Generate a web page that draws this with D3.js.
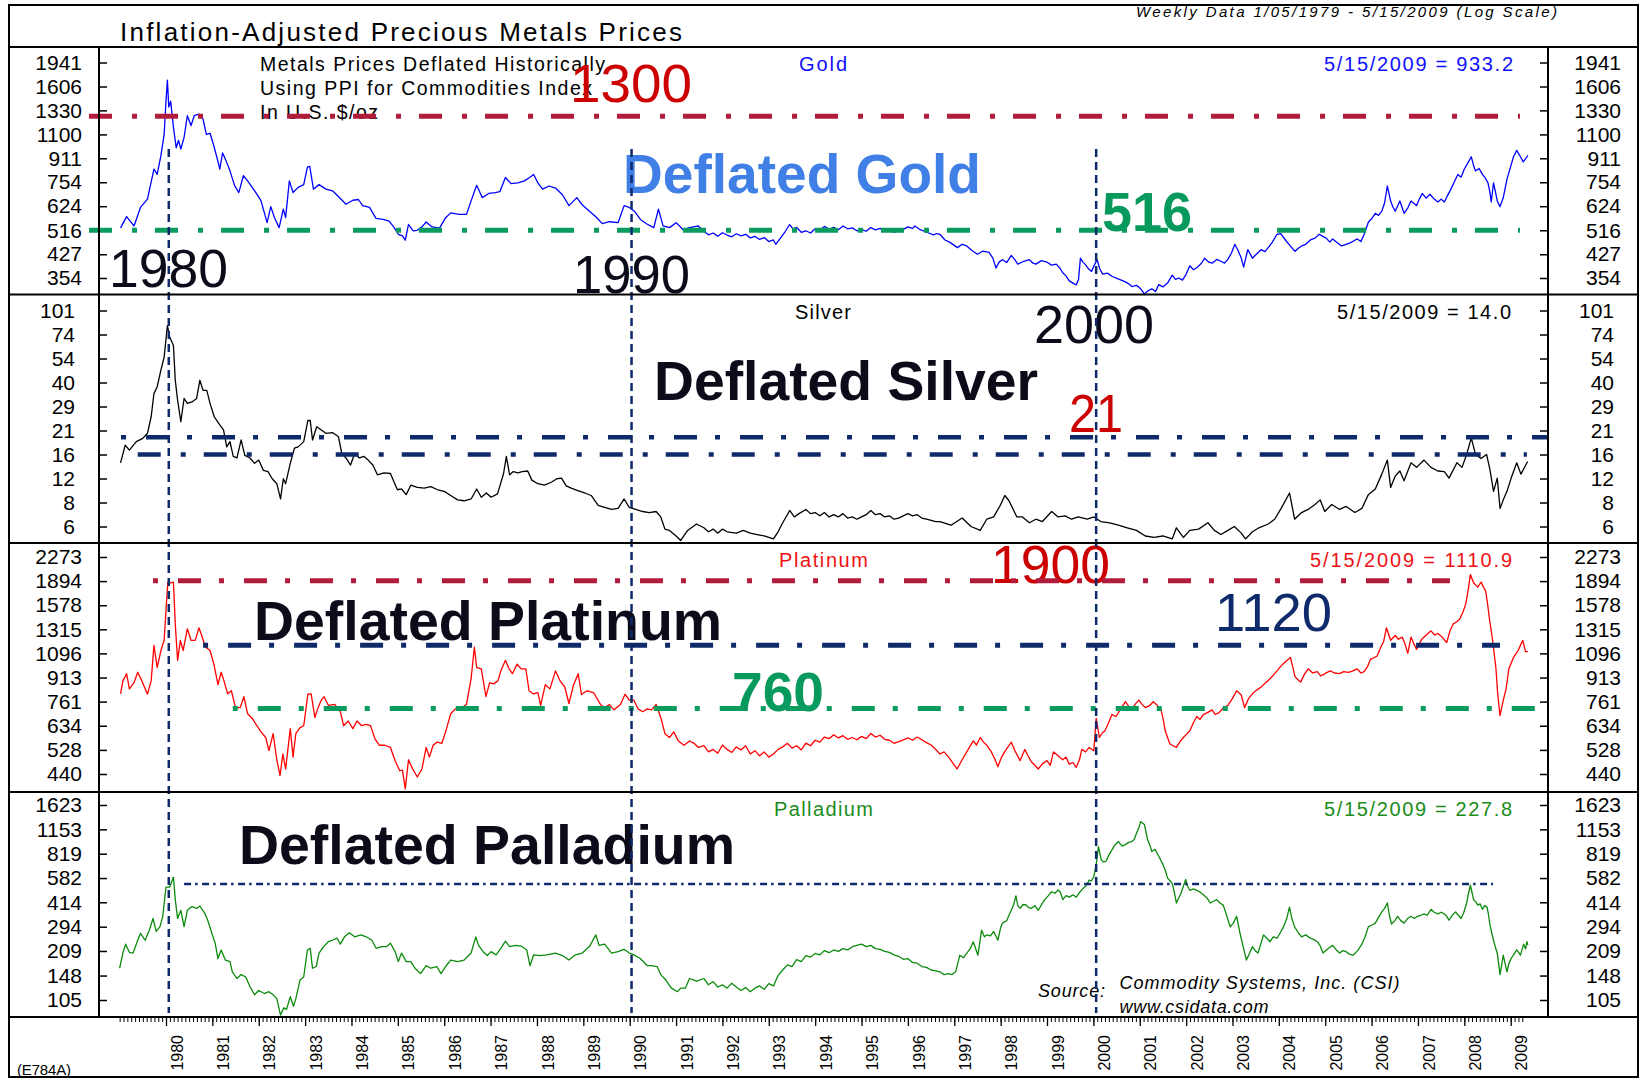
<!DOCTYPE html>
<html>
<head>
<meta charset="utf-8">
<script src="https://cdn.jsdelivr.net/npm/d3@7"></script>
<style>
body { margin: 0; background: #fff; }
svg text { font-family: "Liberation Sans", Arial, sans-serif; }
</style>
</head>
<body>
<svg id="chart" width="1640" height="1079"></svg>
<script>
// tick values / labels of the four log axes
const goldTicks = [354, 427, 516, 624, 754, 911, 1100, 1330, 1606, 1941]
const silverTicks = [6, 8.21, 11.24, 15.38, 21.05, 28.81, 39.43, 53.97, 73.86, 101.1]
const silverTickLabels = ['6', '8', '12', '16', '21', '29', '40', '54', '74', '101']
const platTicks = [440, 528, 634, 761, 913, 1096, 1315, 1578, 1894, 2273]
const pallTicks = [105, 148, 209, 294, 414, 582, 819, 1153, 1623]
const yearLabels = [1980, 1981, 1982, 1983, 1984, 1985, 1986, 1987, 1988, 1989, 1990, 1991, 1992, 1993, 1994,
    1995, 1996, 1997, 1998, 1999, 2000, 2001, 2002, 2003, 2004, 2005, 2006, 2007, 2008, 2009]

// reference levels drawn as dash-dot lines
const goldLevels = [1270, 516]
const silverLevels = [19.3, 15.4]
const platLevels = [1900, 1165, 722]
const pallLevels = [535]
const markerYears = [1980.06, 1990.04, 2000.06]

// deflated prices, [decimal year, $/oz]
const goldData = [[1979.02,526],[1979.15,575],[1979.31,534],[1979.45,618],[1979.6,660],[1979.74,837],[1979.81,802],[1979.89,930],[1979.96,1100],[1980.0,1430],[1980.03,1690],[1980.06,1365],[1980.1,1430],[1980.16,1165],[1980.22,990],[1980.27,1050],[1980.32,980],[1980.39,1075],[1980.46,1275],[1980.54,1180],[1980.61,1275],[1980.71,1290],[1980.8,1240],[1980.87,1100],[1980.95,1110],[1981.02,1020],[1981.12,890],[1981.16,837],[1981.22,950],[1981.28,905],[1981.38,825],[1981.48,734],[1981.57,695],[1981.67,795],[1981.76,762],[1981.86,724],[1981.96,686],[1982.05,651],[1982.18,548],[1982.26,622],[1982.34,570],[1982.44,527],[1982.53,610],[1982.58,570],[1982.66,762],[1982.74,695],[1982.85,724],[1982.97,740],[1983.05,850],[1983.1,855],[1983.18,714],[1983.3,740],[1983.45,714],[1983.59,705],[1983.74,668],[1983.88,634],[1984.03,654],[1984.15,658],[1984.24,627],[1984.39,618],[1984.53,567],[1984.68,562],[1984.81,555],[1984.91,530],[1985.01,500],[1985.1,494],[1985.16,477],[1985.23,541],[1985.33,514],[1985.42,516],[1985.52,530],[1985.61,551],[1985.74,530],[1985.9,525],[1986.03,570],[1986.14,592],[1986.33,585],[1986.48,585],[1986.58,651],[1986.7,736],[1986.82,668],[1986.96,690],[1987.1,695],[1987.2,700],[1987.32,783],[1987.44,746],[1987.59,750],[1987.73,762],[1987.84,783],[1987.93,802],[1988.02,750],[1988.12,714],[1988.26,732],[1988.4,720],[1988.55,683],[1988.69,627],[1988.86,668],[1988.98,630],[1989.12,602],[1989.27,574],[1989.41,544],[1989.56,552],[1989.75,548],[1989.88,627],[1989.99,618],[1990.11,598],[1990.23,562],[1990.38,541],[1990.52,527],[1990.62,610],[1990.72,534],[1990.86,527],[1991.0,548],[1991.15,519],[1991.29,527],[1991.48,534],[1991.6,512],[1991.7,498],[1991.8,505],[1991.9,492],[1992.0,506],[1992.1,497],[1992.2,490],[1992.3,502],[1992.4,494],[1992.5,500],[1992.6,486],[1992.7,492],[1992.8,480],[1992.9,487],[1993.0,472],[1993.1,478],[1993.15,462],[1993.25,485],[1993.35,510],[1993.45,540],[1993.52,522],[1993.6,528],[1993.7,508],[1993.8,514],[1993.9,505],[1994.0,522],[1994.1,515],[1994.2,532],[1994.3,520],[1994.4,528],[1994.5,518],[1994.6,534],[1994.7,522],[1994.8,526],[1994.9,514],[1995.0,520],[1995.1,512],[1995.2,527],[1995.3,518],[1995.4,524],[1995.5,512],[1995.6,518],[1995.7,508],[1995.8,514],[1995.9,520],[1996.0,530],[1996.1,524],[1996.15,534],[1996.25,520],[1996.35,512],[1996.45,505],[1996.55,498],[1996.62,503],[1996.69,500],[1996.8,478],[1996.9,470],[1997.0,458],[1997.07,450],[1997.17,462],[1997.27,456],[1997.38,440],[1997.5,427],[1997.62,438],[1997.75,433],[1997.83,415],[1997.9,383],[1997.97,402],[1998.04,409],[1998.13,400],[1998.23,423],[1998.3,410],[1998.37,395],[1998.5,404],[1998.62,409],[1998.7,398],[1998.76,395],[1998.88,406],[1999.0,401],[1999.1,392],[1999.2,395],[1999.27,384],[1999.34,369],[1999.41,360],[1999.48,346],[1999.56,340],[1999.63,335],[1999.68,350],[1999.72,414],[1999.77,402],[1999.82,395],[1999.9,380],[1999.96,373],[2000.02,392],[2000.08,409],[2000.14,380],[2000.2,365],[2000.3,368],[2000.4,359],[2000.52,352],[2000.64,346],[2000.74,340],[2000.83,331],[2000.93,334],[2001.02,325],[2001.1,312],[2001.18,320],[2001.26,325],[2001.34,318],[2001.41,336],[2001.5,330],[2001.6,340],[2001.7,362],[2001.77,350],[2001.84,354],[2001.92,348],[2001.99,362],[2002.08,390],[2002.16,378],[2002.23,384],[2002.32,396],[2002.4,414],[2002.48,402],[2002.56,398],[2002.66,410],[2002.75,404],[2002.83,398],[2002.9,410],[2002.98,432],[2003.05,462],[2003.12,440],[2003.19,414],[2003.24,386],[2003.33,443],[2003.43,414],[2003.52,428],[2003.62,443],[2003.7,436],[2003.77,450],[2003.86,470],[2003.96,500],[2004.04,503],[2004.15,476],[2004.25,455],[2004.35,437],[2004.42,448],[2004.49,456],[2004.58,462],[2004.68,478],[2004.78,485],[2004.87,500],[2004.95,492],[2005.02,485],[2005.1,470],[2005.16,482],[2005.26,468],[2005.35,456],[2005.45,462],[2005.55,468],[2005.62,475],[2005.69,482],[2005.77,472],[2005.84,500],[2005.93,550],[2006.0,565],[2006.08,590],[2006.15,580],[2006.22,600],[2006.28,640],[2006.34,733],[2006.41,650],[2006.46,620],[2006.51,600],[2006.61,650],[2006.7,590],[2006.78,615],[2006.85,650],[2006.97,627],[2007.03,660],[2007.09,690],[2007.18,665],[2007.26,686],[2007.35,660],[2007.43,645],[2007.5,660],[2007.57,645],[2007.64,680],[2007.71,714],[2007.79,760],[2007.86,802],[2007.93,785],[2008.0,837],[2008.08,880],[2008.15,922],[2008.2,860],[2008.24,825],[2008.32,840],[2008.39,802],[2008.45,780],[2008.51,750],[2008.55,700],[2008.58,645],[2008.63,750],[2008.67,700],[2008.71,650],[2008.77,622],[2008.84,668],[2008.92,773],[2009.0,855],[2009.06,922],[2009.13,970],[2009.21,922],[2009.27,885],[2009.35,922],[2009.37,933.2]]

const silverData = [[1979.02,13.8],[1979.12,17.4],[1979.21,16.3],[1979.36,18.2],[1979.5,19.0],[1979.6,20.3],[1979.68,25.2],[1979.74,34.1],[1979.81,37.3],[1979.89,46.3],[1979.96,55],[1980.03,83],[1980.08,71.6],[1980.16,64],[1980.2,40.6],[1980.25,31.3],[1980.32,23.6],[1980.39,32],[1980.46,30],[1980.56,30.6],[1980.66,32],[1980.73,40.6],[1980.8,35.6],[1980.88,35.6],[1980.95,30],[1981.04,25.2],[1981.14,23],[1981.24,21.2],[1981.31,17],[1981.38,18.2],[1981.45,15],[1981.53,14.7],[1981.62,18.6],[1981.7,15.2],[1981.81,14.7],[1981.91,13.7],[1982.0,14.3],[1982.1,12.5],[1982.2,12.3],[1982.29,11.2],[1982.39,10.5],[1982.47,8.6],[1982.53,11.2],[1982.58,10.5],[1982.68,13.7],[1982.77,16.7],[1982.85,17.0],[1982.97,18.2],[1983.06,24],[1983.11,24],[1983.16,18.6],[1983.25,22.1],[1983.35,21.2],[1983.45,20.3],[1983.59,20.5],[1983.72,19.4],[1983.79,15.6],[1983.88,14.7],[1983.98,13.4],[1984.07,15.6],[1984.17,14.7],[1984.27,15],[1984.36,14.3],[1984.46,13.4],[1984.56,11.8],[1984.7,12.1],[1984.84,12],[1984.99,9.7],[1985.08,9.8],[1985.18,9.1],[1985.28,10.3],[1985.42,10],[1985.57,9.9],[1985.71,10.1],[1985.86,9.7],[1986.0,9.5],[1986.14,9.0],[1986.29,8.5],[1986.43,8.4],[1986.58,8.6],[1986.7,9.8],[1986.8,8.8],[1986.91,9.3],[1987.01,8.8],[1987.15,9.2],[1987.28,12],[1987.34,15],[1987.41,11.8],[1987.49,12.3],[1987.59,12.1],[1987.68,12.3],[1987.8,12.4],[1987.89,11],[1988.02,10.5],[1988.16,10.3],[1988.31,10.7],[1988.43,11.2],[1988.53,11.3],[1988.63,10.2],[1988.74,9.9],[1988.88,9.6],[1989.03,9.3],[1989.17,9.0],[1989.32,7.9],[1989.46,7.7],[1989.61,7.5],[1989.75,7.6],[1989.88,8.6],[1989.99,7.7],[1990.13,7.5],[1990.28,7.3],[1990.42,7.2],[1990.57,7.3],[1990.67,6.8],[1990.76,5.8],[1990.86,5.7],[1991.0,5.3],[1991.1,5.0],[1991.25,5.7],[1991.44,6.2],[1991.6,5.9],[1991.7,5.6],[1991.8,5.8],[1991.9,5.5],[1992.0,5.8],[1992.1,5.6],[1992.3,5.5],[1992.45,5.7],[1992.6,5.5],[1992.75,5.4],[1992.9,5.3],[1993.0,5.2],[1993.1,5.1],[1993.2,5.6],[1993.3,6.3],[1993.4,7.0],[1993.45,7.4],[1993.55,6.8],[1993.65,7.1],[1993.8,7.5],[1993.9,7.1],[1994.0,7.2],[1994.1,6.9],[1994.2,7.2],[1994.3,6.8],[1994.4,7.0],[1994.5,6.8],[1994.6,7.1],[1994.7,6.7],[1994.8,6.8],[1994.9,6.6],[1995.0,6.8],[1995.1,7.0],[1995.2,7.4],[1995.3,7.0],[1995.4,7.1],[1995.5,6.8],[1995.6,6.9],[1995.7,6.6],[1995.8,6.7],[1995.9,6.9],[1996.0,7.1],[1996.1,6.9],[1996.2,7.0],[1996.3,6.7],[1996.4,6.6],[1996.5,6.5],[1996.6,6.4],[1996.69,6.4],[1996.93,6.1],[1997.17,6.7],[1997.36,6.0],[1997.56,5.7],[1997.7,6.6],[1997.85,6.8],[1997.99,7.9],[1998.09,9.0],[1998.18,8.4],[1998.35,6.8],[1998.47,6.8],[1998.62,6.3],[1998.76,6.6],[1998.9,6.4],[1999.1,7.3],[1999.24,6.8],[1999.39,6.9],[1999.53,6.6],[1999.67,6.8],[1999.87,6.6],[2000.01,6.8],[2000.16,6.4],[2000.35,6.3],[2000.54,6.1],[2000.73,5.9],[2000.93,5.7],[2001.12,5.3],[2001.31,5.2],[2001.5,5.3],[2001.7,5.1],[2001.79,5.9],[2001.94,5.2],[2002.08,5.7],[2002.27,5.8],[2002.47,6.3],[2002.61,5.7],[2002.75,5.4],[2002.9,5.7],[2003.04,6.0],[2003.19,5.5],[2003.28,5.1],[2003.43,5.6],[2003.57,5.9],[2003.77,6.2],[2003.91,6.6],[2004.05,7.6],[2004.23,9.3],[2004.34,6.6],[2004.49,7.2],[2004.63,7.5],[2004.78,8.0],[2004.89,8.5],[2004.99,7.3],[2005.14,8.0],[2005.31,7.5],[2005.45,7.8],[2005.64,7.2],[2005.79,7.6],[2005.93,9.1],[2006.08,9.8],[2006.22,11.9],[2006.34,14.3],[2006.41,10.0],[2006.51,11.6],[2006.61,12.4],[2006.7,10.9],[2006.85,13.8],[2006.97,13.0],[2007.13,14.3],[2007.28,13.0],[2007.43,12.4],[2007.57,12.3],[2007.67,11.3],[2007.84,13.8],[2007.95,13.0],[2008.05,15.4],[2008.15,19.1],[2008.24,15.4],[2008.36,14.6],[2008.48,15.4],[2008.55,12.7],[2008.63,9.5],[2008.71,11.3],[2008.77,7.6],[2008.84,8.5],[2008.92,9.5],[2009.01,11.3],[2009.13,13.8],[2009.22,11.9],[2009.35,13.8],[2009.37,14.0]]

const platData = [[1979.02,807],[1979.07,890],[1979.15,940],[1979.21,838],[1979.31,878],[1979.39,950],[1979.48,890],[1979.6,805],[1979.68,890],[1979.74,1165],[1979.81,985],[1979.89,1120],[1979.96,1210],[1980.0,1520],[1980.04,1880],[1980.1,1870],[1980.16,1880],[1980.2,1370],[1980.25,1040],[1980.31,1210],[1980.37,1120],[1980.46,1320],[1980.54,1210],[1980.63,1210],[1980.71,1330],[1980.77,1255],[1980.85,1150],[1980.95,1120],[1981.04,1000],[1981.12,865],[1981.19,950],[1981.25,890],[1981.33,807],[1981.41,826],[1981.5,727],[1981.6,727],[1981.68,790],[1981.76,694],[1981.86,670],[1981.96,634],[1982.05,605],[1982.15,580],[1982.22,525],[1982.31,597],[1982.39,490],[1982.46,435],[1982.52,512],[1982.58,457],[1982.68,620],[1982.74,500],[1982.8,597],[1982.89,625],[1982.97,634],[1983.06,805],[1983.13,807],[1983.21,675],[1983.28,727],[1983.35,770],[1983.41,790],[1983.5,740],[1983.64,745],[1983.76,705],[1983.83,634],[1983.93,657],[1984.03,620],[1984.12,657],[1984.22,634],[1984.32,640],[1984.41,634],[1984.51,573],[1984.6,547],[1984.72,547],[1984.84,538],[1984.94,487],[1985.04,451],[1985.1,453],[1985.16,393],[1985.23,490],[1985.32,457],[1985.42,430],[1985.52,457],[1985.61,538],[1985.68,500],[1985.76,547],[1985.85,560],[1985.95,555],[1986.05,620],[1986.14,694],[1986.24,720],[1986.38,727],[1986.48,745],[1986.58,905],[1986.65,1150],[1986.7,985],[1986.8,975],[1986.9,790],[1986.98,878],[1987.06,870],[1987.16,890],[1987.22,960],[1987.32,1040],[1987.4,975],[1987.47,940],[1987.57,1010],[1987.66,975],[1987.76,975],[1987.83,826],[1987.92,807],[1988.02,815],[1988.08,740],[1988.18,865],[1988.28,838],[1988.4,960],[1988.5,890],[1988.6,850],[1988.69,750],[1988.79,865],[1988.89,940],[1988.96,803],[1989.08,826],[1989.22,815],[1989.37,745],[1989.46,727],[1989.56,745],[1989.66,715],[1989.8,745],[1989.9,805],[1989.99,770],[1990.09,770],[1990.18,720],[1990.28,705],[1990.38,720],[1990.47,715],[1990.57,745],[1990.67,675],[1990.76,597],[1990.86,580],[1990.95,605],[1991.05,565],[1991.17,547],[1991.29,565],[1991.39,555],[1991.48,538],[1991.6,545],[1991.7,520],[1991.8,530],[1991.9,515],[1992.0,548],[1992.1,530],[1992.2,518],[1992.3,540],[1992.4,528],[1992.5,545],[1992.6,512],[1992.7,525],[1992.8,505],[1992.9,520],[1993.0,500],[1993.1,512],[1993.2,530],[1993.3,540],[1993.4,555],[1993.5,535],[1993.6,545],[1993.7,528],[1993.8,556],[1993.9,545],[1994.0,568],[1994.1,560],[1994.2,582],[1994.3,575],[1994.4,592],[1994.5,578],[1994.6,588],[1994.7,572],[1994.8,580],[1994.9,570],[1995.0,585],[1995.1,575],[1995.2,598],[1995.3,582],[1995.4,590],[1995.5,572],[1995.6,568],[1995.7,555],[1995.8,562],[1995.9,570],[1996.0,578],[1996.1,568],[1996.2,582],[1996.3,570],[1996.4,558],[1996.5,548],[1996.6,530],[1996.69,512],[1996.78,520],[1996.88,500],[1996.97,478],[1997.06,457],[1997.17,490],[1997.3,530],[1997.41,565],[1997.48,548],[1997.56,580],[1997.63,560],[1997.7,547],[1997.8,520],[1997.87,495],[1997.94,465],[1998.02,500],[1998.12,530],[1998.23,560],[1998.32,520],[1998.42,487],[1998.52,530],[1998.59,505],[1998.66,483],[1998.74,470],[1998.81,457],[1998.9,475],[1999.0,487],[1999.07,470],[1999.14,520],[1999.24,505],[1999.34,490],[1999.41,500],[1999.48,474],[1999.56,480],[1999.63,463],[1999.7,490],[1999.75,530],[1999.83,520],[1999.91,538],[2000.01,525],[2000.06,670],[2000.13,580],[2000.19,600],[2000.25,610],[2000.33,650],[2000.4,690],[2000.49,680],[2000.59,720],[2000.69,761],[2000.76,735],[2000.83,715],[2000.9,745],[2000.98,770],[2001.05,745],[2001.12,727],[2001.22,740],[2001.29,760],[2001.36,745],[2001.46,715],[2001.51,660],[2001.55,610],[2001.6,580],[2001.65,552],[2001.72,545],[2001.79,538],[2001.86,560],[2001.94,580],[2002.01,595],[2002.08,610],[2002.16,650],[2002.23,680],[2002.3,665],[2002.37,690],[2002.46,700],[2002.56,715],[2002.63,690],[2002.71,700],[2002.8,725],[2002.9,740],[2003.0,780],[2003.09,826],[2003.19,800],[2003.26,727],[2003.35,780],[2003.43,807],[2003.52,830],[2003.62,850],[2003.72,880],[2003.81,905],[2003.88,930],[2003.96,960],[2004.03,990],[2004.1,1015],[2004.18,1040],[2004.25,1063],[2004.3,990],[2004.35,916],[2004.41,900],[2004.47,882],[2004.55,935],[2004.63,975],[2004.73,945],[2004.83,955],[2004.9,925],[2004.97,935],[2005.04,950],[2005.11,960],[2005.2,945],[2005.31,940],[2005.4,955],[2005.5,950],[2005.6,960],[2005.69,975],[2005.77,945],[2005.84,955],[2005.91,990],[2005.98,1050],[2006.05,1060],[2006.12,1075],[2006.2,1150],[2006.26,1200],[2006.32,1330],[2006.41,1210],[2006.51,1255],[2006.58,1220],[2006.66,1240],[2006.72,1180],[2006.78,1096],[2006.85,1240],[2006.91,1180],[2006.97,1130],[2007.03,1180],[2007.09,1225],[2007.18,1260],[2007.28,1300],[2007.36,1260],[2007.43,1275],[2007.52,1240],[2007.62,1190],[2007.69,1300],[2007.76,1370],[2007.83,1390],[2007.9,1420],[2007.97,1500],[2008.03,1590],[2008.09,1800],[2008.13,1990],[2008.2,1870],[2008.29,1810],[2008.36,1880],[2008.46,1755],[2008.5,1600],[2008.54,1430],[2008.61,1210],[2008.68,985],[2008.72,807],[2008.77,684],[2008.84,770],[2008.9,838],[2008.96,975],[2009.06,1063],[2009.16,1120],[2009.26,1210],[2009.32,1110],[2009.37,1110.9]]

const pallData = [[1979.0,164],[1979.07,203],[1979.13,230],[1979.21,205],[1979.29,203],[1979.39,243],[1979.45,268],[1979.55,243],[1979.64,280],[1979.72,330],[1979.79,275],[1979.87,294],[1979.93,340],[1980.0,513],[1980.08,513],[1980.16,590],[1980.2,430],[1980.25,330],[1980.32,370],[1980.39,294],[1980.46,370],[1980.56,390],[1980.66,380],[1980.73,393],[1980.83,357],[1980.9,322],[1981.0,262],[1981.06,233],[1981.12,188],[1981.19,212],[1981.28,184],[1981.38,180],[1981.43,156],[1981.53,142],[1981.62,150],[1981.72,145],[1981.81,127],[1981.91,113],[1982.0,120],[1982.12,115],[1982.22,118],[1982.31,113],[1982.39,107],[1982.47,85],[1982.54,94],[1982.6,92],[1982.68,110],[1982.75,96],[1982.8,107],[1982.89,139],[1982.97,145],[1983.05,212],[1983.11,217],[1983.16,164],[1983.24,168],[1983.3,203],[1983.4,222],[1983.5,238],[1983.59,243],[1983.69,250],[1983.76,230],[1983.85,255],[1983.95,270],[1984.07,255],[1984.2,262],[1984.32,255],[1984.44,243],[1984.53,217],[1984.65,222],[1984.75,222],[1984.84,233],[1984.94,207],[1985.01,180],[1985.08,203],[1985.18,180],[1985.28,180],[1985.37,164],[1985.49,152],[1985.61,170],[1985.71,164],[1985.84,168],[1985.93,152],[1986.03,168],[1986.14,184],[1986.29,180],[1986.43,184],[1986.58,203],[1986.68,255],[1986.74,226],[1986.84,207],[1986.93,196],[1987.01,207],[1987.12,198],[1987.22,217],[1987.32,240],[1987.41,222],[1987.54,226],[1987.66,224],[1987.78,212],[1987.85,170],[1987.93,198],[1988.07,196],[1988.21,198],[1988.4,203],[1988.55,196],[1988.69,184],[1988.83,198],[1988.98,203],[1989.14,224],[1989.27,262],[1989.34,226],[1989.46,230],[1989.61,203],[1989.75,207],[1989.88,214],[1989.99,203],[1990.09,198],[1990.23,188],[1990.38,170],[1990.47,170],[1990.59,168],[1990.67,150],[1990.78,139],[1990.9,124],[1991.03,118],[1991.1,124],[1991.2,124],[1991.29,142],[1991.44,137],[1991.6,142],[1991.7,130],[1991.8,136],[1991.9,126],[1992.0,130],[1992.1,124],[1992.2,133],[1992.3,126],[1992.4,120],[1992.5,125],[1992.6,118],[1992.7,124],[1992.8,128],[1992.9,122],[1993.0,132],[1993.1,128],[1993.2,148],[1993.3,160],[1993.4,172],[1993.5,168],[1993.6,185],[1993.7,180],[1993.8,196],[1993.9,192],[1994.0,202],[1994.1,198],[1994.2,210],[1994.3,204],[1994.4,212],[1994.5,208],[1994.6,216],[1994.7,212],[1994.8,222],[1994.9,226],[1995.0,230],[1995.1,222],[1995.2,226],[1995.3,216],[1995.4,214],[1995.5,208],[1995.6,205],[1995.7,198],[1995.8,194],[1995.9,186],[1996.0,188],[1996.1,178],[1996.2,176],[1996.3,168],[1996.4,166],[1996.5,160],[1996.6,158],[1996.69,156],[1996.78,150],[1996.88,152],[1996.95,150],[1997.03,156],[1997.12,197],[1997.2,190],[1997.27,203],[1997.34,215],[1997.41,238],[1997.51,197],[1997.59,280],[1997.65,255],[1997.7,262],[1997.78,258],[1997.85,275],[1997.94,243],[1998.0,290],[1998.04,309],[1998.13,320],[1998.18,345],[1998.23,370],[1998.28,400],[1998.33,453],[1998.37,395],[1998.42,380],[1998.48,400],[1998.54,400],[1998.6,385],[1998.66,380],[1998.74,395],[1998.81,370],[1998.88,400],[1998.95,430],[1999.03,455],[1999.1,480],[1999.17,470],[1999.24,493],[1999.29,475],[1999.34,430],[1999.41,455],[1999.48,445],[1999.56,460],[1999.63,445],[1999.7,475],[1999.77,500],[1999.84,520],[1999.91,565],[1999.96,560],[2000.01,595],[2000.06,700],[2000.11,905],[2000.17,750],[2000.22,730],[2000.27,735],[2000.33,800],[2000.4,865],[2000.47,930],[2000.54,971],[2000.62,910],[2000.69,930],[2000.76,960],[2000.83,971],[2000.88,1000],[2000.93,1090],[2000.98,1180],[2001.02,1285],[2001.1,1235],[2001.17,995],[2001.22,920],[2001.26,845],[2001.33,870],[2001.41,790],[2001.5,705],[2001.55,650],[2001.6,581],[2001.65,560],[2001.7,540],[2001.75,470],[2001.79,410],[2001.84,440],[2001.89,470],[2001.99,570],[2002.03,520],[2002.08,490],[2002.16,500],[2002.23,490],[2002.3,478],[2002.37,460],[2002.45,440],[2002.52,410],[2002.59,420],[2002.66,430],[2002.73,410],[2002.8,398],[2002.88,340],[2002.95,293],[2003.02,310],[2003.09,340],[2003.16,270],[2003.24,217],[2003.3,184],[2003.36,200],[2003.43,222],[2003.49,210],[2003.55,203],[2003.61,230],[2003.67,262],[2003.74,250],[2003.81,238],[2003.88,255],[2003.96,250],[2004.03,270],[2004.1,293],[2004.17,330],[2004.23,387],[2004.28,330],[2004.34,293],[2004.42,270],[2004.49,255],[2004.58,262],[2004.68,250],[2004.76,245],[2004.83,238],[2004.89,225],[2004.95,203],[2005.01,210],[2005.07,217],[2005.16,226],[2005.24,212],[2005.31,203],[2005.38,210],[2005.45,207],[2005.52,200],[2005.6,197],[2005.7,210],[2005.79,230],[2005.86,255],[2005.93,293],[2006.0,300],[2006.08,309],[2006.15,335],[2006.22,362],[2006.28,380],[2006.34,410],[2006.38,350],[2006.43,305],[2006.5,320],[2006.56,340],[2006.63,320],[2006.7,309],[2006.78,330],[2006.85,340],[2006.92,330],[2006.99,340],[2007.06,345],[2007.13,352],[2007.2,345],[2007.28,375],[2007.35,360],[2007.43,352],[2007.5,360],[2007.57,352],[2007.62,340],[2007.67,322],[2007.74,345],[2007.81,362],[2007.87,345],[2007.93,330],[2007.99,360],[2008.05,410],[2008.09,470],[2008.13,526],[2008.17,470],[2008.2,430],[2008.25,415],[2008.29,398],[2008.34,405],[2008.39,375],[2008.44,395],[2008.49,387],[2008.52,350],[2008.55,305],[2008.59,270],[2008.63,243],[2008.67,220],[2008.71,203],[2008.74,175],[2008.77,150],[2008.81,175],[2008.84,197],[2008.88,175],[2008.92,156],[2008.96,175],[2009.01,188],[2009.07,200],[2009.13,212],[2009.17,205],[2009.21,197],[2009.28,230],[2009.32,215],[2009.35,238],[2009.37,227.8]]

const svg = d3.select('#chart')
const plotLeft = 99
const plotRight = 1548
const axisBottomY = 1017
const FONT = '"Liberation Sans", Arial, sans-serif'
const navy = '#0f2a6b'
const crimson = '#b21c3c'
const teal = '#0a9b5f'
const thickDash = '23,20,5,18'

const x = d3.scaleLinear().domain([1980, 2009]).range([166, 1510.7])

const panels = [
    { key: 'gold', data: goldData, ticks: goldTicks, labels: goldTicks.map(String), top: 47, bottom: 294.5, padT: 15.5, padB: 16.5, color: '#0000ff', shift: 0 },
    { key: 'silver', data: silverData, ticks: silverTicks, labels: silverTickLabels, top: 294.5, bottom: 543, padT: 16, padB: 16.5, color: '#000000', shift: 7 },
    { key: 'plat', data: platData, ticks: platTicks, labels: platTicks.map(String), top: 543, bottom: 792, padT: 14, padB: 18, color: '#ff0000', shift: 0 },
    { key: 'pall', data: pallData, ticks: pallTicks, labels: pallTicks.map(String), top: 792, bottom: 1017, padT: 13, padB: 17, color: '#0b8a0b', shift: 0 }
]
panels.forEach(p => {
    p.y = d3.scaleLog()
        .domain([p.ticks[0], p.ticks[p.ticks.length - 1]])
        .range([p.bottom - p.padB, p.top + p.padT])
})
const byKey = {}
panels.forEach(p => { byKey[p.key] = p })

const defs = svg.append('defs')
panels.forEach(p => {
    defs.append('clipPath').attr('id', 'clip-' + p.key)
        .append('rect')
        .attr('x', plotLeft).attr('y', p.top)
        .attr('width', plotRight - plotLeft).attr('height', p.bottom - p.top)
})

// y axes, ticks point inward
panels.forEach(p => {
    const fmt = (d, i) => p.labels[i]
    const left = d3.axisLeft(p.y).tickValues(p.ticks).tickFormat(fmt)
        .tickSizeInner(-8).tickSizeOuter(0).tickPadding(17 + p.shift)
    const right = d3.axisRight(p.y).tickValues(p.ticks).tickFormat(fmt)
        .tickSizeInner(-8).tickSizeOuter(0).tickPadding(73 - p.shift)
    svg.append('g')
        .attr('transform', `translate(${plotLeft},0)`)
        .call(left)
        .call(g => g.select('.domain').remove())
        .attr('font-size', 21).attr('font-family', FONT)
        .call(g => g.selectAll('line').attr('stroke', '#000').attr('stroke-width', 1.5))
    svg.append('g')
        .attr('transform', `translate(${plotRight},0)`)
        .call(right)
        .call(g => g.select('.domain').remove())
        .attr('font-size', 21).attr('font-family', FONT)
        .call(g => g.selectAll('line').attr('stroke', '#000').attr('stroke-width', 1.5))
        .call(g => g.selectAll('text').attr('text-anchor', 'end'))
})

// x axis: monthly minor ticks, yearly major ticks
const monthTicks = d3.range(0, 30 * 12 + 4).map(i => 1979 + i / 12)
svg.append('g')
    .attr('transform', `translate(0,${axisBottomY})`)
    .call(d3.axisBottom(x).tickValues(monthTicks).tickSize(5).tickFormat(''))
    .call(g => g.select('.domain').remove())
    .call(g => g.selectAll('line').attr('stroke', '#000').attr('stroke-width', 1))
svg.append('g')
    .attr('transform', `translate(0,${axisBottomY})`)
    .call(d3.axisBottom(x).tickValues(yearLabels).tickSize(9).tickFormat(''))
    .call(g => g.select('.domain').remove())
    .call(g => g.selectAll('line').attr('stroke', '#000').attr('stroke-width', 1.3))
svg.append('g').selectAll('text')
    .data(yearLabels)
    .join('text')
    .attr('transform', d => `translate(${x(d) + 11},1035) rotate(-90)`)
    .attr('text-anchor', 'end')
    .attr('dy', '0.35em')
    .attr('font-size', 16)
    .text(d => d)

// price series
const line = p => d3.line().x(d => x(d[0])).y(d => p.y(d[1]))
panels.forEach(p => {
    svg.append('path')
        .datum(p.data)
        .attr('clip-path', `url(#clip-${p.key})`)
        .attr('fill', 'none')
        .attr('stroke', p.color)
        .attr('stroke-width', 1.3)
        .attr('stroke-linejoin', 'round')
        .attr('d', line(p))
})

// annotations
const notes = [
    { t: 'Inflation-Adjusted Precious Metals Prices', x: 120, y: 41, size: 26, w: 562 },
    { t: 'Weekly Data 1/05/1979 - 5/15/2009 (Log Scale)', x: 1136, y: 17, size: 15, w: 421, italic: true },
    { t: 'Metals Prices Deflated Historically', x: 260, y: 70.5, size: 19.5, w: 345 },
    { t: 'Using PPI for Commodities Index', x: 260, y: 95, size: 19.5, w: 332 },
    { t: 'In U.S. $/oz', x: 260, y: 119, size: 19.5, w: 118 },
    { t: 'Gold', x: 799, y: 70.5, size: 20, w: 48, fill: '#1010ff' },
    { t: '5/15/2009 = 933.2', x: 1324, y: 70.5, size: 20, w: 189, fill: '#1010ff' },
    { t: 'Silver', x: 795, y: 319, size: 20, w: 56 },
    { t: '5/15/2009 = 14.0', x: 1337, y: 319, size: 20, w: 174 },
    { t: 'Platinum', x: 779, y: 567, size: 20, w: 89, fill: '#ee1111' },
    { t: '5/15/2009 = 1110.9', x: 1310, y: 567, size: 20, w: 202, fill: '#ee1111' },
    { t: 'Palladium', x: 774, y: 816, size: 20, w: 99, fill: '#1a8c1a' },
    { t: '5/15/2009 = 227.8', x: 1324, y: 816, size: 20, w: 188, fill: '#1a8c1a' },
    { t: '1300', x: 570, y: 102, size: 54, w: 122, fill: '#cc0000' },
    { t: 'Deflated Gold', x: 623, y: 193, size: 56, w: 358, fill: '#3f7fe6', bold: true },
    { t: '516', x: 1102, y: 231, size: 56, w: 90, fill: '#089a5c', bold: true },
    { t: '1980', x: 109, y: 287, size: 54, w: 119, fill: '#0b0b1a' },
    { t: '1990', x: 573, y: 293, size: 54, w: 117, fill: '#0b0b1a' },
    { t: '2000', x: 1034, y: 343, size: 54, w: 120, fill: '#0b0b1a' },
    { t: 'Deflated Silver', x: 654, y: 400, size: 56, w: 384, fill: '#0b0b1a', bold: true },
    { t: '21', x: 1069, y: 432, size: 54, w: 54, fill: '#cc0000' },
    { t: 'Deflated Platinum', x: 254, y: 640, size: 56, w: 468, fill: '#0b0b1a', bold: true },
    { t: '1900', x: 991, y: 583, size: 54, w: 119, fill: '#cc0000' },
    { t: '1120', x: 1215, y: 631, size: 54, w: 117, fill: navy },
    { t: '760', x: 732, y: 711, size: 56, w: 92, fill: '#089a5c', bold: true },
    { t: 'Deflated Palladium', x: 239, y: 864, size: 56, w: 496, fill: '#0b0b1a', bold: true },
    { t: 'Source:', x: 1038, y: 997, size: 18, w: 67, italic: true },
    { t: 'Commodity Systems, Inc. (CSI)', x: 1119.5, y: 989, size: 18, w: 280, italic: true },
    { t: 'www.csidata.com', x: 1119.5, y: 1013, size: 18, w: 149, italic: true },
    { t: '(E784A)', x: 17, y: 1075, size: 15, w: 54 }
]
svg.append('g').selectAll('text')
    .data(notes)
    .join('text')
    .attr('x', d => d.x)
    .attr('y', d => d.y)
    .attr('font-size', d => d.size)
    .attr('font-weight', d => d.bold ? 'bold' : 'normal')
    .attr('font-style', d => d.italic ? 'italic' : 'normal')
    .attr('fill', d => d.fill || '#000')
    .attr('textLength', d => d.w)
    .attr('lengthAdjust', d => d.size > 40 ? 'spacingAndGlyphs' : 'spacing')
    .text(d => d.t)

// dash-dot reference levels
const levels = [
    { p: 'gold', v: goldLevels[0], from: 1978.34, to: 2009.2, color: crimson, w: 5, dash: thickDash },
    { p: 'gold', v: goldLevels[1], from: 1978.34, to: 2009.2, color: teal, w: 5, dash: thickDash },
    { p: 'silver', v: silverLevels[0], from: 1979.03, to: 2009.8, color: navy, w: 4.5, dash: '5,20,23,18' },
    { p: 'silver', v: silverLevels[1], from: 1979.39, to: 2009.35, color: navy, w: 4.5, dash: thickDash },
    { p: 'plat', v: platLevels[0], from: 1979.72, to: 2007.69, color: crimson, w: 5, dash: '5,20,23,18' },
    { p: 'plat', v: platLevels[1], from: 1980.8, to: 2008.77, color: navy, w: 5, dash: '5,20,23,18' },
    { p: 'plat', v: platLevels[2], from: 1981.44, to: 2009.52, color: teal, w: 5, dash: '5,20,23,18' },
    { p: 'pall', v: pallLevels[0], from: 1980.39, to: 2008.62, color: navy, w: 2.5, dash: '7,4,2.5,4.5' }
]
svg.append('g').selectAll('line')
    .data(levels)
    .join('line')
    .attr('x1', d => x(d.from))
    .attr('x2', d => x(d.to))
    .attr('y1', d => byKey[d.p].y(d.v))
    .attr('y2', d => byKey[d.p].y(d.v))
    .attr('stroke', d => d.color)
    .attr('stroke-width', d => d.w)
    .attr('stroke-dasharray', d => d.dash)

// decade markers
svg.append('g').selectAll('line')
    .data(markerYears)
    .join('line')
    .attr('x1', d => x(d)).attr('x2', d => x(d))
    .attr('y1', 149).attr('y2', 1013)
    .attr('stroke', navy)
    .attr('stroke-width', 2.5)
    .attr('stroke-dasharray', '8,5')

// frame and panel borders
const frame = svg.append('g').attr('stroke', '#000').attr('fill', 'none')
frame.append('rect').attr('x', 9).attr('y', 5).attr('width', 1629).attr('height', 1072).attr('stroke-width', 2)
frame.selectAll('line.h')
    .data([47, 294.5, 543, 792, axisBottomY])
    .join('line')
    .attr('x1', 9).attr('x2', 1638)
    .attr('y1', d => d).attr('y2', d => d)
    .attr('stroke-width', 2)
frame.selectAll('line.v')
    .data([plotLeft, plotRight])
    .join('line')
    .attr('x1', d => d).attr('x2', d => d)
    .attr('y1', 47).attr('y2', axisBottomY)
    .attr('stroke-width', 2)
</script>
</body>
</html>
